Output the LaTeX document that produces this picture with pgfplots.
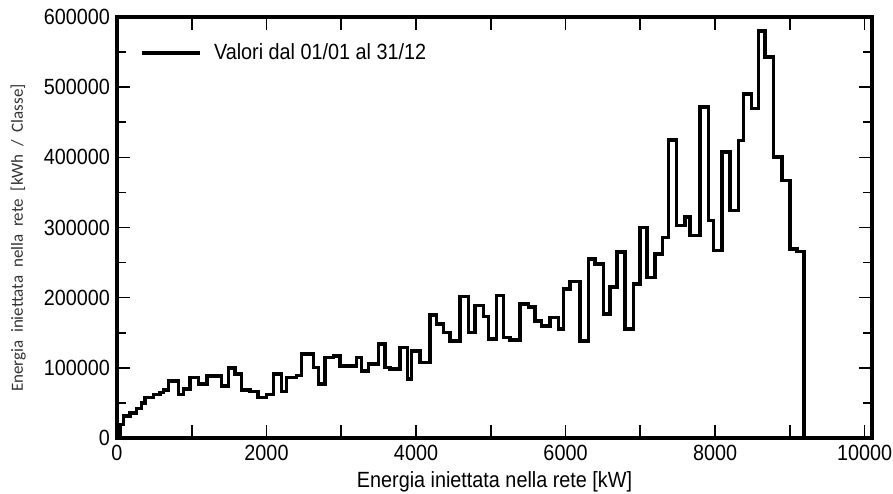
\documentclass[border=0pt]{standalone}
\usepackage{fontspec}
\setmainfont{Liberation Sans}[FakeStretch=0.9]
\newfontfamily\calib{Carlito}
\usepackage{pgfplots}
\pgfplotsset{compat=1.18}

% step values of the histogram (left edge of each step, kWh per class)
\pgfplotstableread{
x y
0 3000
40 19500
85 31000
174 36000
263 42000
330 50000
375 57600
486 62000
575 64800
620 68000
687 81000
821 62000
887 69500
977 86000
1088 76700
1200 88600
1400 74000
1490 99500
1579 91000
1668 68000
1780 66000
1890 57600
2002 62000
2091 91000
2203 66000
2270 86000
2403 89000
2470 119500
2626 100500
2694 76700
2783 114800
2894 117000
2983 102900
3206 114800
3273 95700
3362 105200
3496 133800
3585 100500
3652 98100
3786 129000
3886 83800
3942 124300
4053 107600
4187 175700
4276 162400
4366 150500
4455 138600
4589 201400
4700 150500
4789 188600
4901 172900
4968 141000
5079 202900
5168 143300
5258 139500
5391 191000
5503 187000
5592 167000
5681 160000
5793 171900
5904 155200
5971 212400
6060 223300
6194 138600
6305 255200
6395 248000
6506 176700
6596 214800
6685 264800
6797 155200
6908 219500
6997 300000
7086 229000
7198 262000
7298 286000
7376 425000
7487 303000
7599 314800
7666 288600
7800 471900
7911 310000
7978 267000
8090 407600
8201 324000
8313 424000
8380 490000
8490 469500
8580 580000
8669 543000
8781 400500
8892 367000
9003 269500
9093 266000
9191 0
}\energia

\begin{document}
\begin{tikzpicture}
\begin{axis}[
  at={(0,0)}, anchor=south west,
  scale only axis, width=377.5pt, height=210.5pt,
  xmin=0, xmax=10100, ymin=0, ymax=600000,
  axis line style={line width=2pt},
  tick align=inside,
  tick style={black, line width=0.8pt},
  major tick length=6.5pt, minor tick length=4.5pt,
  xtick={0,1000,...,10000},
  xticklabels={0,,2000,,4000,,6000,,8000,,10000},
  ytick={0,100000,200000,300000,400000,500000,600000},
  yticklabels={0,100000,200000,300000,400000,500000,600000},
  minor ytick={50000,150000,250000,350000,450000,550000},
  scaled ticks=false,
  ticklabel style={font=\fontsize{11}{13}\selectfont},
  xlabel={Energia iniettata nella rete [kW]},
  xlabel style={font=\fontsize{11}{13}\selectfont, at={(axis description cs:0.5,-0.1045)}, anchor=center},
  ylabel={Energia\ \ iniettata\ \ nella\ \ rete\ \ [kWh\ \ /\ \ Classe]},
  ylabel style={font=\calib\fontsize{8.5}{10}\selectfont, text=black!80, at={(axis description cs:-0.131,0.475)}, anchor=center},
  legend style={draw=none, fill=none, at={(axis description cs:0.031,0.9145)}, anchor=west,
    inner sep=0pt, font=\fontsize{11}{13}\selectfont, legend cell align=left,
    /tikz/every odd column/.append style={column sep=4pt}},
  legend image code/.code={\draw[line width=1.6pt] (0pt,0pt) -- (29pt,0pt);},
]
\addplot[const plot, black, line width=1.8pt, line join=miter] table[x=x, y=y] {\energia};
\addlegendentry{Valori dal 01/01 al 31/12}
\end{axis}
\pgfresetboundingbox
\useasboundingbox (-58.5pt,-27.5pt) rectangle (388pt,219pt);
\end{tikzpicture}
\end{document}
